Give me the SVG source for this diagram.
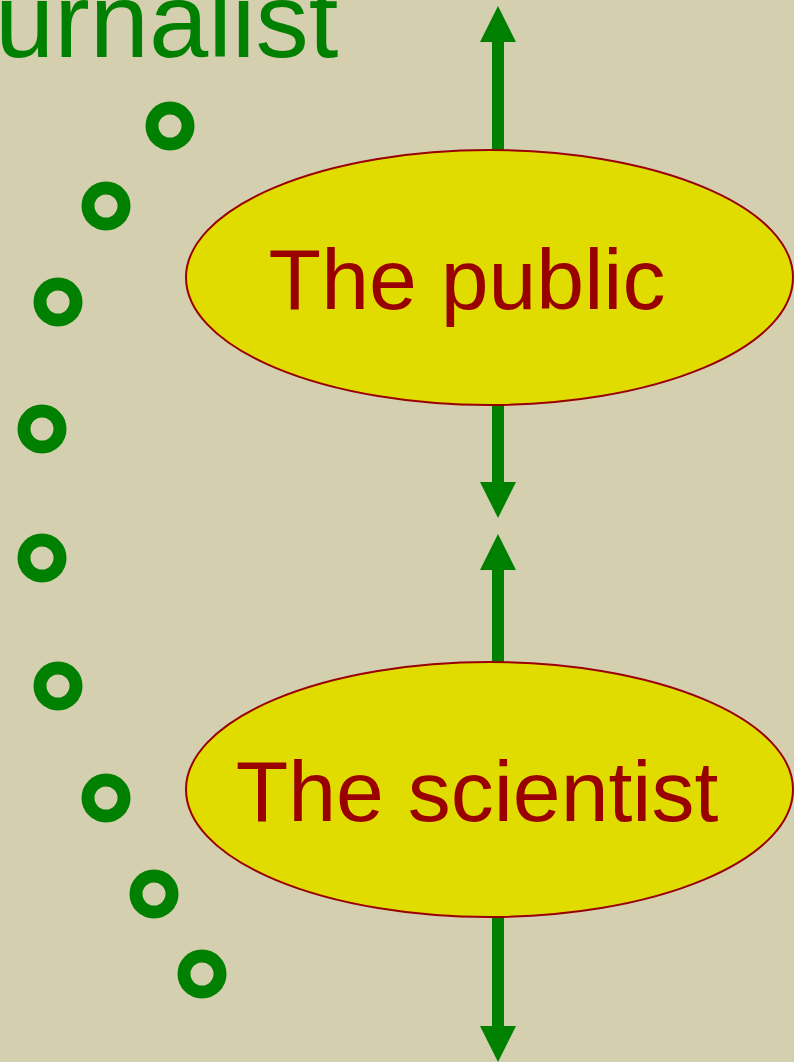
<svg xmlns="http://www.w3.org/2000/svg" width="794" height="1062" viewBox="0 0 794 1062">
<defs>
<style>
.ring{fill:none;stroke:#008000;stroke-width:13}
.node{fill:#e0dc00;stroke:#990000;stroke-width:2}
.lbl{font-family:"Liberation Sans",Arial,sans-serif;font-size:86px;fill:#990000;text-anchor:middle}
.shaft{stroke:#008000;stroke-width:12;fill:none}
.head{fill:#008000}
</style>
</defs>
<rect width="794" height="1062" fill="#d4cfae"/>
<g id="journalist">
<text x="-5" y="57" font-family="'Liberation Sans',Arial,sans-serif" font-size="106.5" fill="#008000">urnalist</text>
<circle class="ring" cx="170" cy="126" r="18"/>
<circle class="ring" cx="106" cy="206" r="18"/>
<circle class="ring" cx="58" cy="302" r="18"/>
<circle class="ring" cx="42" cy="429" r="18"/>
<circle class="ring" cx="42" cy="558" r="18"/>
<circle class="ring" cx="58" cy="686" r="18"/>
<circle class="ring" cx="106" cy="798" r="18"/>
<circle class="ring" cx="154" cy="894" r="18"/>
<circle class="ring" cx="202" cy="974" r="18"/>
</g>
<g id="connectors">
<line class="shaft" x1="498" y1="40" x2="498" y2="151"/>
<polygon class="head" points="498,6 516,42 480,42"/>
<line class="shaft" x1="498" y1="404" x2="498" y2="484"/>
<polygon class="head" points="498,518 516,482 480,482"/>
<line class="shaft" x1="498" y1="568" x2="498" y2="663"/>
<polygon class="head" points="498,534 516,570 480,570"/>
<line class="shaft" x1="498" y1="916" x2="498" y2="1028"/>
<polygon class="head" points="498,1062 516,1026 480,1026"/>
</g>
<g id="public">
<ellipse class="node" cx="489.5" cy="277.5" rx="303.5" ry="127.5"/>
<text class="lbl" x="467" y="309">The public</text>
</g>
<g id="scientist">
<ellipse class="node" cx="489.5" cy="789.5" rx="303.5" ry="127.5"/>
<text class="lbl" x="477" y="821">The scientist</text>
</g>
</svg>
